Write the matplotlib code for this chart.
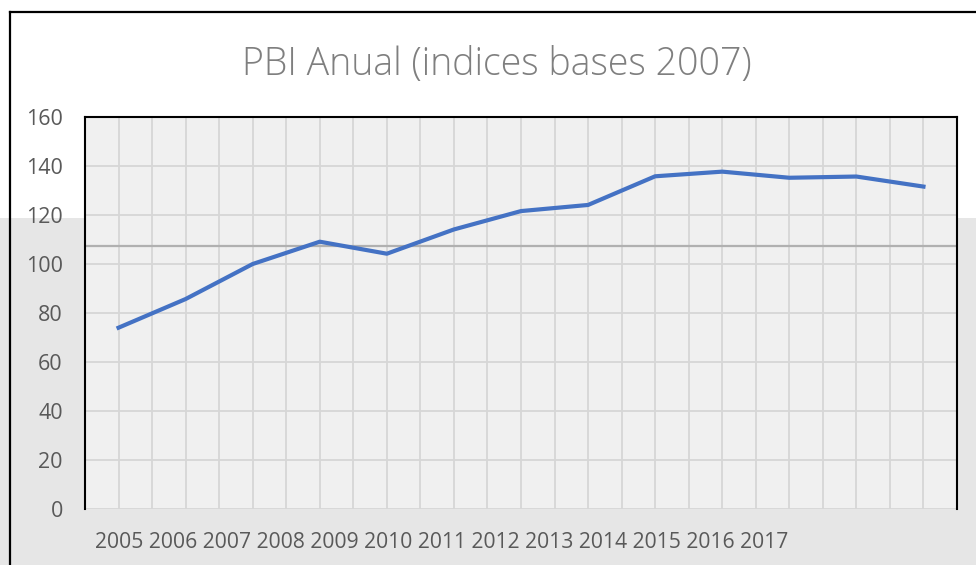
import matplotlib
matplotlib.use("Agg")
import matplotlib.pyplot as plt
from matplotlib.patches import Rectangle
from matplotlib.lines import Line2D
import numpy as np

# Datos
anios = ["2005", "2006", "2007", "2008", "2009", "2010", "2011",
         "2012", "2013", "2014", "2015", "2016", "2017"]
pbi = [74, 85.7, 100, 109.1, 104.2, 114.1, 121.6, 124.1,
       135.8, 137.7, 135.2, 135.7, 131.6]
yticks = [0, 20, 40, 60, 80, 100, 120, 140, 160]

plt.rcParams['font.family'] = ['Open Sans', 'DejaVu Sans']

fig = plt.figure(figsize=(9.76, 5.65), dpi=100)
fig.patch.set_facecolor('white')

# fondo gris de la diapositiva
fig.patches.append(Rectangle((0, 0), 1, (565 - 218) / 565, transform=fig.transFigure,
                             facecolor='#e6e6e6', edgecolor='none', zorder=-10))
# borde del area del grafico
fig.lines.append(Line2D([10 / 976, 10 / 976], [0, 1 - 12 / 565], transform=fig.transFigure,
                        color='black', lw=1.6, zorder=-5))
fig.lines.append(Line2D([10 / 976, 1], [1 - 12 / 565, 1 - 12 / 565], transform=fig.transFigure,
                        color='black', lw=1.6, zorder=-5))

ax = fig.add_axes([85 / 976, 56 / 565, 872 / 976, 392 / 565])
ax.set_facecolor('#f0f0f0')

x = np.arange(len(anios))
ax.axhline(107.5, color='#b0b0b0', lw=1.6, zorder=2)
ax.plot(x, pbi, color='#4472C4', lw=3.0, solid_joinstyle='round', zorder=3)

ax.set_xlim(-0.5, len(anios) - 0.5)
ax.set_ylim(0, 160)
ax.set_yticks(yticks)
ax.set_xticks(x)
ax.set_xticks(np.arange(-0.5, len(anios), 1), minor=True)
ax.set_xticklabels([])
ax.grid(True, which='both', color='#d6d6d6', lw=1.3, zorder=1)
ax.set_axisbelow(True)
ax.tick_params(axis='both', which='both', length=0)
ax.tick_params(axis='y', labelsize=15.5, labelcolor='#595959', pad=16)

for s in ['left', 'top', 'right']:
    ax.spines[s].set_color('black')
    ax.spines[s].set_linewidth(1.5)
ax.spines['bottom'].set_visible(False)

# etiquetas de anios
ax.text(10 / 872, -34 / 392, " ".join(anios), transform=ax.transAxes,
        ha='left', va='center', fontsize=15.2, color='#595959')

fig.text(497 / 976, 1 - 65 / 565, "PBI Anual (indices bases 2007)",
         ha='center', va='center', fontsize=27, color='#7f7f7f', fontweight='light')

fig.savefig('out.png', dpi=100)
